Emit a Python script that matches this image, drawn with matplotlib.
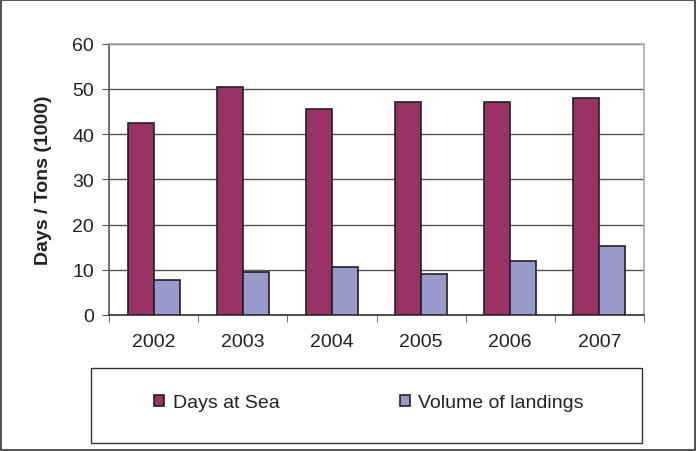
import matplotlib.pyplot as plt
import matplotlib.patches as mpatches
import numpy as np

plt.rcParams['font.family'] = ['Liberation Sans', 'DejaVu Sans']

# data
years = ['2002', '2003', '2004', '2005', '2006', '2007']
days_at_sea = [42.5, 50.4, 45.5, 47.2, 47.2, 48.0]
volume_landings = [7.8, 9.4, 10.6, 9.0, 11.9, 15.3]

x = np.arange(len(years))
width = 0.29

fig = plt.figure(figsize=(6.96, 4.52), dpi=100)
fig.patch.set_edgecolor('#555555')
fig.patch.set_linewidth(1.5)

ax = fig.add_axes([0.157, 0.301, 0.768, 0.600])

ax.bar(x - width / 2, days_at_sea, width, color='#993366', edgecolor='#222222',
       linewidth=1.2, zorder=3, label='Days at Sea')
ax.bar(x + width / 2, volume_landings, width, color='#9999cc', edgecolor='#222222',
       linewidth=1.2, zorder=3, label='Volume of landings')

ax.set_xlim(-0.5, len(years) - 0.5)
ax.set_ylim(0, 60)
ax.set_yticks(np.arange(0, 61, 10))
ax.set_xticks(x)
ax.set_xticklabels(years)
ax.set_xticks(np.arange(-0.5, len(years), 1), minor=True)
ax.tick_params(axis='x', which='major', length=0, pad=13, labelsize=14, labelcolor='#222222')
ax.tick_params(axis='x', which='minor', length=5, color='#555555')
ax.tick_params(axis='y', length=5, color='#555555', labelsize=14, pad=6, labelcolor='#222222')

ax.grid(axis='y', color='#555555', linewidth=1, zorder=0)
ax.spines['left'].set_color('#555555')
ax.spines['bottom'].set_color('#333333')
ax.spines['top'].set_color('#aaaaaa')
ax.spines['right'].set_color('#aaaaaa')
for s in ax.spines.values():
    s.set_linewidth(1.2)

ax.set_ylabel('Days / Tons (1000)', fontsize=14, fontweight='bold', color='#222222')
ax.yaxis.set_label_coords(-0.107, 0.5)

# legend box below the plot
box = mpatches.Rectangle((91 / 696, 1 - 444 / 452), 551 / 696, 75 / 452,
                         transform=fig.transFigure, facecolor='white',
                         edgecolor='#333333', linewidth=1)
fig.patches.append(box)
handles, labels = ax.get_legend_handles_labels()
fig.legend(handles, labels, loc='center', bbox_to_anchor=(369 / 696, 1 - 404 / 452),
           ncol=2, frameon=False, fontsize=14, handlelength=0.5, handleheight=0.5,
           handletextpad=0.45, columnspacing=6.2, labelcolor='#222222')

plt.savefig('out.png', dpi=100)
